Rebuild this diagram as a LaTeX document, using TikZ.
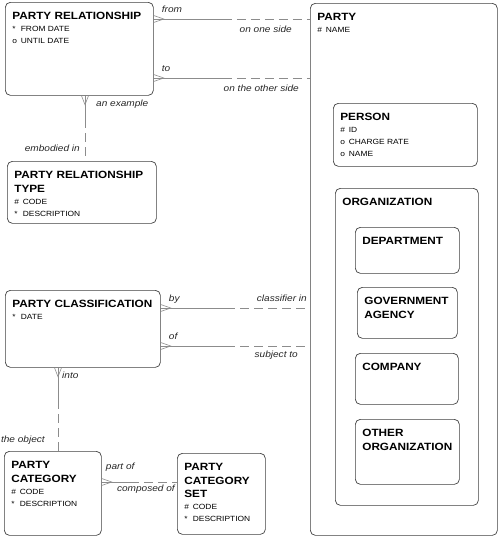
\documentclass[tikz,border=0pt]{standalone}
\usepackage{fontspec}
\setmainfont{Liberation Sans}[FakeStretch=1.12]
\usetikzlibrary{positioning,calc}

\newcommand{\erbox}[3]{\begin{minipage}[t][#2pt][t]{#1pt}#3\end{minipage}}
\newcommand{\ername}[1]{{\fontsize{10.5}{13.5}\selectfont\bfseries\rule{0pt}{17.5pt}#1\par}}
\newcommand{\erattr}[2]{{\fontsize{7.5}{12}\selectfont\makebox[8.5pt][l]{#1}#2\par}}

\begin{document}
\begin{tikzpicture}[x=1pt,y=-1pt,
  entity/.style={draw=black!75,line width=0.7pt,rounded corners=5pt,fill=white,
    anchor=north west,inner xsep=7pt,inner ysep=0pt},
  link/.style={draw=black!45,line width=0.6pt},
  opt/.style={dash pattern=on 9pt off 5pt,dash phase=9pt},
  lbl/.style={font=\fontsize{9}{10}\selectfont\itshape,text=black!85,inner sep=0pt},
  crowr/.pic={\draw[link] (0,-3.5) -- (10,0) -- (0,3.5);},
  crowd/.pic={\draw[link] (-3.5,0) -- (0,9) -- (3.5,0);}]
  \useasboundingbox (0,0) rectangle (500,538);

  % entities
  \node[entity] (rel) at (5,2) {\erbox{134}{93}{\ername{PARTY RELATIONSHIP}\erattr{*}{FROM DATE}\erattr{o}{UNTIL DATE}}};
  \node[entity] (rtype) at (7,161) {\erbox{135}{62}{\ername{PARTY RELATIONSHIP\\TYPE}\erattr{\#}{CODE}\erattr{*}{DESCRIPTION}}};
  \node[entity] (party) at (310,3) {\erbox{173}{532}{\ername{PARTY}\erattr{\#}{NAME}}};
  \node[entity] (person) at (333,103) {\erbox{130}{63}{\ername{PERSON}\erattr{\#}{ID}\erattr{o}{CHARGE RATE}\erattr{o}{NAME}}};
  \node[entity] (org) at (335,188) {\erbox{129}{317}{\ername{ORGANIZATION}}};
  \node[entity] (dept) at (355,227) {\erbox{90}{46}{\ername{DEPARTMENT}}};
  \node[entity] (agency) at (357,287) {\erbox{86}{51}{\ername{GOVERNMENT\\AGENCY}}};
  \node[entity] (company) at (355,353) {\erbox{89}{51}{\ername{COMPANY}}};
  \node[entity] (otherorg) at (355,419) {\erbox{90}{65}{\ername{OTHER\\ORGANIZATION}}};
  \node[entity] (class) at (5,290) {\erbox{141}{77}{\ername{PARTY CLASSIFICATION}\erattr{*}{DATE}}};
  \node[entity] (cat) at (4,451) {\erbox{83}{84}{\ername{PARTY\\CATEGORY}\erattr{\#}{CODE}\erattr{*}{DESCRIPTION}}};
  \node[entity] (catset) at (177,453) {\erbox{74}{81}{\ername{PARTY\\CATEGORY\\SET}\erattr{\#}{CODE}\erattr{*}{DESCRIPTION}}};

  % relationship ends
  \coordinate (from1) at ([yshift=-17pt]rel.north east);
  \coordinate (from2) at (from1 -| party.west);
  \coordinate (to1) at ([yshift=-76pt]rel.north east);
  \coordinate (to2) at (to1 -| party.west);
  \coordinate (ex1) at ([xshift=80pt]rel.south west);
  \coordinate (ex2) at (ex1 |- rtype.north);
  \coordinate (by1) at ([yshift=-18pt]class.north east);
  \coordinate (by2) at (by1 -| party.west);
  \coordinate (of1) at ([yshift=-56pt]class.north east);
  \coordinate (of2) at (of1 -| party.west);
  \coordinate (in1) at ([xshift=53pt]class.south west);
  \coordinate (in2) at (in1 |- cat.north);
  \coordinate (pt1) at ([yshift=-31pt]cat.north east);
  \coordinate (pt2) at (pt1 -| catset.west);

  % solid half, then optional half
  \foreach \src/\dst in {from1/from2,to1/to2,ex1/ex2,by1/by2,of1/of2,in1/in2,pt1/pt2}{
    \draw[link] (\src) -- ($(\src)!.5!(\dst)$);
    \draw[link,opt] ($(\src)!.5!(\dst)$) -- (\dst);
  }
  \foreach \q in {from1,to1,by1,of1,pt1} \pic at (\q) {crowr};
  \foreach \q in {ex1,in1} \pic at (\q) {crowd};

  % relationship names
  \node[lbl,above right=6pt and 8pt of from1] (lfrom) {from};
  \node[lbl,below left=7pt and 18pt of from2] (lside1) {on one side};
  \node[lbl,above right=6pt and 8pt of to1] (lto) {to};
  \node[lbl,below left=7pt and 11pt of to2] (lside2) {on the other side};
  \node[lbl,below right=4pt and 11pt of ex1] (lex) {an example};
  \node[lbl,above left=9pt and 5pt of ex2] (lemb) {embodied in};
  \node[lbl,above right=4pt and 8pt of by1] (lby) {by};
  \node[lbl,above left=6pt and 3pt of by2] (lcls) {classifier in};
  \node[lbl,above right=6pt and 8pt of of1] (lof) {of};
  \node[lbl,below left=5pt and 12pt of of2] (lsub) {subject to};
  \node[lbl,below right=4pt and 4pt of in1] (linto) {into};
  \node[lbl,above left=6pt and 13pt of in2] (lobj) {the object};
  \node[lbl,above right=10pt and 4pt of pt1] (lpart) {part of};
  \node[lbl,below left=3pt and 2pt of pt2] (lcomp) {composed of};
\end{tikzpicture}
\end{document}
